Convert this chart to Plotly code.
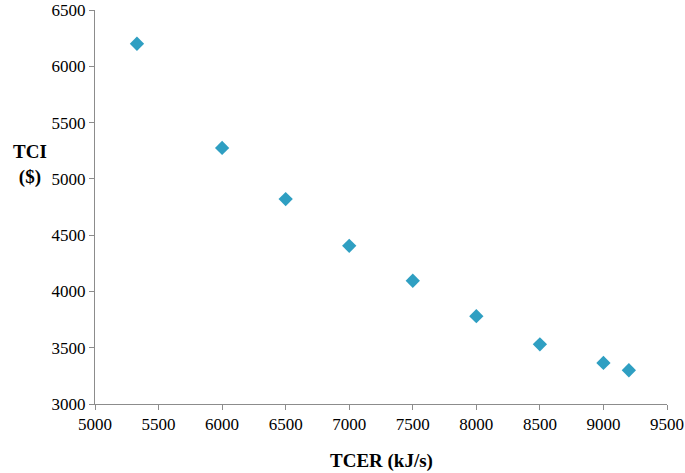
import plotly.graph_objects as go

# data
tcer = [5330, 6000, 6500, 7000, 7500, 8000, 8500, 9000, 9200]
tci = [6200, 5275, 4820, 4405, 4095, 3780, 3530, 3365, 3300]

fig = go.Figure()
fig.add_trace(go.Scatter(x=tcer, y=tci, mode="markers",
                         marker=dict(symbol="diamond", size=11, color="#2F9FC2")))

axis_style = dict(showgrid=False, zeroline=False, showline=True, linecolor="#8c8c8c",
                  linewidth=1, ticks="outside", ticklen=5, tickcolor="#8c8c8c",
                  automargin=False,
                  tickfont=dict(family="Liberation Serif", size=17, color="black"))

fig.update_xaxes(range=[5000, 9500], dtick=500, **axis_style)
fig.update_yaxes(range=[3000, 6500], dtick=500, **axis_style)

fig.update_layout(
    width=685, height=473,
    margin=dict(l=95, r=18, t=10, b=69),
    plot_bgcolor="white", paper_bgcolor="white",
    showlegend=False,
    annotations=[
        dict(text="<b>TCER (kJ/s)</b>", x=0.5, y=-0.145, xref="paper", yref="paper",
             showarrow=False, yanchor="middle",
             font=dict(family="Liberation Serif", size=19, color="black")),
        dict(text="<b>TCI<br>($)</b>", x=-0.114, y=0.607, xref="paper", yref="paper",
             showarrow=False, xanchor="center",
             font=dict(family="Liberation Serif", size=19, color="black")),
    ],
)

# drop the default 8px body margin so the figure fills the window exactly
fig.write_html("out.html", config={"displayModeBar": False},
               post_script="document.body.style.margin = '0';")
